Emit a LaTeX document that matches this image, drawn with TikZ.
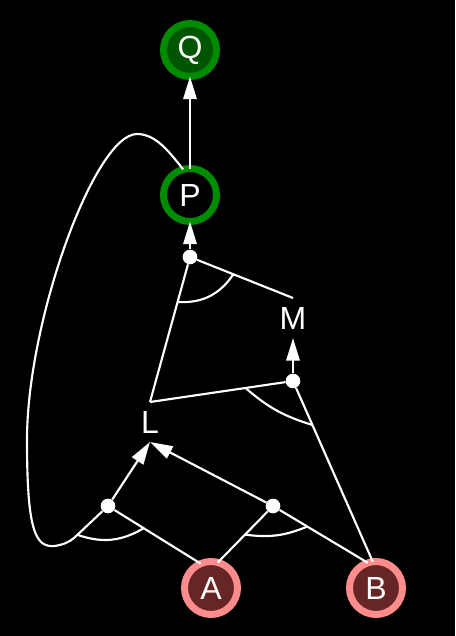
\documentclass[tikz,border=0pt]{standalone}
\usepackage{fontspec}
\setmainfont{Liberation Sans}
\usetikzlibrary{arrows.meta,calc}

\definecolor{goalring}{RGB}{0,140,0}
\definecolor{goalfill}{RGB}{0,85,0}
\definecolor{factring}{RGB}{255,140,140}
\definecolor{factfill}{RGB}{102,38,38}

\begin{document}
\begin{tikzpicture}[x=0.75pt,y=-0.75pt,font=\fontsize{24}{28}\selectfont,
    >={Triangle[length=17pt,width=10pt]},
    every edge/.style={draw=white,line width=1.6pt},
    wire/.style={draw=white,line width=1.6pt},
    goal/.style={circle,draw=goalring,line width=5.25pt,minimum size=39.75pt,
      inner sep=0pt,outer sep=0pt,text=white},
    fact/.style={goal,draw=factring,fill=factfill},
    atom/.style={text=white,minimum height=30pt,inner sep=0pt,outer sep=0pt},
    junction/.style={circle,fill=white,minimum size=11pt,inner sep=0pt}]
  \fill[black] (0,0) rectangle (455,636);
  \node[goal,fill=goalfill] (Q) at (190,50) {Q};
  \node[goal,fill=black] (P) at (190,195) {P};
  \node[junction] (j_1) at (190,257) {};
  \node[atom] (M) at (293,318) {M};
  \node[junction] (j_2) at (293,381) {};
  \node[atom] (L) at (150,422) {L};
  \node[junction] (j_3) at (108,506) {};
  \node[junction] (j_4) at (273,506) {};
  \node[fact] (A) at (211,588) {A};
  \node[fact] (B) at (376,588) {B};
  \coordinate (k_3) at (74,538);

  \path[->]
    (P) edge (Q)
    (j_1) edge (P)
    (j_2) edge (M.south)
    (j_3) edge (L.south)
    (j_4) edge (L.south);
  \path
    (L.north) edge (j_1)
    (M.north) edge (j_1)
    (L.north) edge (j_2)
    (B.97) edge (j_2)
    (A.113) edge (j_3)
    (A.75) edge (j_4)
    (B.108) edge (j_4);
  % loop back from P into the left junction
  \draw[wire] (P.105) .. controls (168,150) and (155,134) .. (137,134)
    .. controls (95,134) and (27,320) .. (27,440)
    .. controls (27,530) and (35,548) .. (55,546)
    .. controls (62,545) and (69.6,542) .. (k_3) -- (j_3);
  % and-arcs
  \draw[wire] ($(j_1.center)!35pt!(L.north)$) to[bend right=30] ($(j_1.center)!35pt!(M.north)$);
  \draw[wire] ($(j_2.center)!36pt!(L.north)$) to[bend right=12] ($(j_2.center)!36pt!(B.97)$);
  \draw[wire] ($(j_3.center)!31.5pt!(k_3)$) to[bend right=25] ($(j_3.center)!31.5pt!(A.113)$);
  \draw[wire] ($(j_4.center)!30pt!(A.75)$) to[bend right=15] ($(j_4.center)!30pt!(B.108)$);
\end{tikzpicture}
\end{document}
